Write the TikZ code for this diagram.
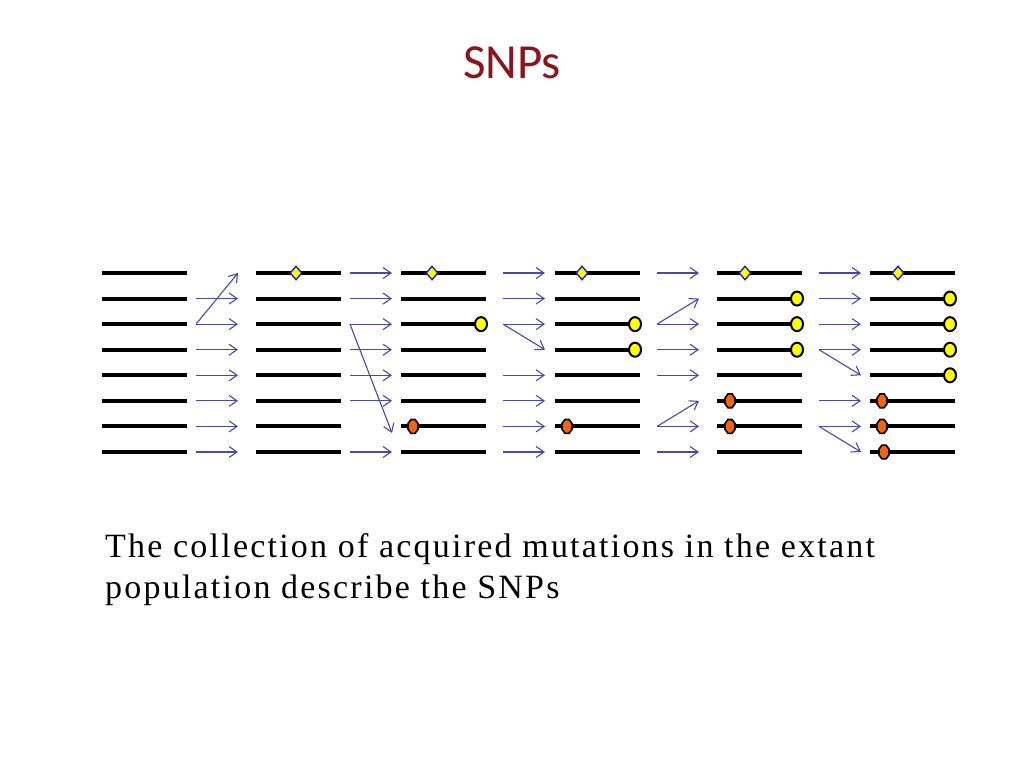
\documentclass[tikz,border=0pt]{standalone}
\usepackage{fontspec}
\usetikzlibrary{arrows.meta,shapes.geometric}
\newfontfamily\titlefont{Carlito}
\newfontfamily\bodyfont{Liberation Serif}[LetterSpace=6.5]
\definecolor{titlered}{RGB}{140,20,28}
\definecolor{arrowblue}{RGB}{72,72,165}
\definecolor{markblue}{RGB}{30,30,200}
\definecolor{markyellow}{RGB}{255,255,0}
\definecolor{markorange}{RGB}{240,100,20}
\tikzset{
  chrom/.style={line width=4pt,black},
  flow/.style={arrowblue,line width=1.1pt,-{Straight Barb[length=8pt,width=11pt,line width=1.1pt]}},
  diamark/.style={diamond,draw=markblue,fill=markyellow,line width=1.4pt,minimum width=12pt,minimum height=14pt,inner sep=0pt},
  circmark/.style={ellipse,draw=black,fill=markyellow,line width=2pt,minimum width=12pt,minimum height=14pt,inner sep=0pt},
  ornmark/.style={regular polygon,regular polygon sides=8,draw=black,fill=markorange,line width=1.6pt,minimum size=15pt,inner sep=0pt,xscale=0.72,transform shape},
}
\begin{document}
\begin{tikzpicture}[x=1pt,y=-1pt]
\useasboundingbox[fill=white] (0,0) rectangle (1024,768);
% title
\node[anchor=base,font=\titlefont\fontsize{49}{58}\selectfont,text=titlered,inner sep=0pt] (title) at (512,78) {SNPs};
% chromosome line coordinates
\foreach \c/\x in {1/102,2/256,3/401,4/555,5/717,6/870}{
  \foreach \r in {1,...,8}{
    \coordinate (L\c s\r) at (\x,{273+25.57*(\r-1)});
    \coordinate (L\c e\r) at ({\x+85},{273+25.57*(\r-1)});
  }
}
% arrow end coordinates
\foreach \g/\x in {1/196,2/350,3/503,4/657,5/819}{
  \foreach \r in {1,...,8}{
    \coordinate (G\g s\r) at (\x,{273+25.57*(\r-1)});
    \coordinate (G\g e\r) at ({\x+42},{273+25.57*(\r-1)});
  }
}
\coordinate (G2tip) at (392,433);
% chromosomes
\foreach \c in {1,...,6}{
  \foreach \r in {1,...,8}{
    \draw[chrom] (L\c s\r) -- (L\c e\r);
  }
}
% straight arrows
\foreach \r in {2,...,8}{\draw[flow] (G1s\r) -- (G1e\r);}
\foreach \r in {1,2,3,4,5,6,8}{\draw[flow] (G2s\r) -- (G2e\r);}
\foreach \r in {1,2,3,5,6,7,8}{\draw[flow] (G3s\r) -- (G3e\r);}
\foreach \r in {1,3,4,5,7,8}{\draw[flow] (G4s\r) -- (G4e\r);}
\foreach \r in {1,2,3,4,6,7}{\draw[flow] (G5s\r) -- (G5e\r);}
% diagonal arrows
\draw[flow] (G1s3) -- (G1e1);
\draw[flow] (G2s3) -- (G2tip);
\draw[flow] (G3s3) -- (G3e4);
\draw[flow] (G4s3) -- (G4e2);
\draw[flow] (G4s7) -- (G4e6);
\draw[flow] (G5s4) -- (G5e5);
\draw[flow] (G5s7) -- (G5e8);
% markers: diamonds
\node[diamark] (d2) at (296,273) {};
\node[diamark] (d3) at (432,273) {};
\node[diamark] (d4) at (582,273) {};
\node[diamark] (d5) at (745,273) {};
\node[diamark] (d6) at (898,273) {};
% markers: yellow circles
\node[circmark] (c3r3) at (481,{273+25.57*2}) {};
\node[circmark] (c4r3) at (635,{273+25.57*2}) {};
\node[circmark] (c4r4) at (635,{273+25.57*3}) {};
\node[circmark] (c5r2) at (797,{273+25.57*1}) {};
\node[circmark] (c5r3) at (797,{273+25.57*2}) {};
\node[circmark] (c5r4) at (797,{273+25.57*3}) {};
\node[circmark] (c6r2) at (950,{273+25.57*1}) {};
\node[circmark] (c6r3) at (950,{273+25.57*2}) {};
\node[circmark] (c6r4) at (950,{273+25.57*3}) {};
\node[circmark] (c6r5) at (950,{273+25.57*4}) {};
% markers: orange
\node[ornmark] (o3r7) at (413,{273+25.57*6}) {};
\node[ornmark] (o4r7) at (567,{273+25.57*6}) {};
\node[ornmark] (o5r6) at (730,{273+25.57*5}) {};
\node[ornmark] (o5r7) at (730,{273+25.57*6}) {};
\node[ornmark] (o6r6) at (882,{273+25.57*5}) {};
\node[ornmark] (o6r7) at (882,{273+25.57*6}) {};
\node[ornmark] (o6r8) at (884,{273+25.57*7}) {};
% body text
\node[anchor=base west,inner sep=0pt,font=\bodyfont\fontsize{34}{41}\selectfont] (body1) at (105,557) {The collection of acquired mutations in the extant};
\node[anchor=base west,inner sep=0pt,font=\bodyfont\fontsize{34}{41}\selectfont] (body2) at (105,598) {population describe the SNPs};
\end{tikzpicture}
\end{document}
